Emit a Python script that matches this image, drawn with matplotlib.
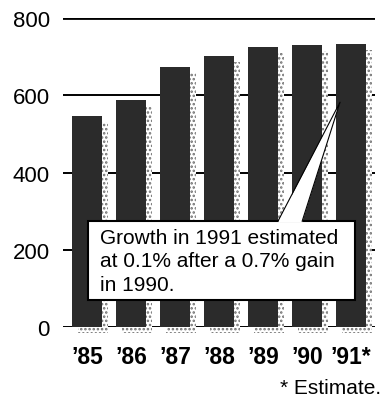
import matplotlib.pyplot as plt
from matplotlib.patches import Rectangle, Polygon

plt.rcParams['font.family'] = ['Liberation Sans', 'DejaVu Sans']
plt.rcParams['hatch.linewidth'] = 1.2

# yearly values (1991 is an estimate)
years = ["\u201985", "\u201986", "\u201987", "\u201988", "\u201989", "\u201990", "\u201991*"]
values = [547, 588, 673, 702, 725, 731, 732]
yticks = [0, 200, 400, 600, 800]
note = "Growth in 1991 estimated\nat 0.1% after a 0.7% gain\nin 1990."

barColor = "#2b2b2b"
barWidth = 0.68

fig = plt.figure(figsize=(3.83, 4.02), dpi=100)
ax = fig.add_axes([63 / 383, 74 / 402, 312 / 383, 309 / 402])

x = list(range(len(values)))

# horizontal rules behind the bars
for v in yticks:
    ax.axhline(v, color="black", lw=2.0 if v == 800 else 1.4, zorder=1)

# stippled drop shadow, shifted right and down
ax.bar([i + 0.14 for i in x], values, bottom=-16, width=barWidth,
       color="white", edgecolor="#707070", lw=0, hatch="....", zorder=2, clip_on=False)
ax.bar(x, values, width=barWidth, color=barColor, zorder=3)

# callout box with a wedge pointing at the 1991 bar
boxTop = 274
ax.add_patch(Rectangle((0.02, 70), 6.07, boxTop - 70, facecolor="white", edgecolor="black",
                       lw=1.5, zorder=4))
tip = (x[-1] - 0.25, values[-1] - 150)
base = [(4.34, boxTop), (4.89, boxTop)]
ax.add_patch(Polygon([(4.34, boxTop - 3), (4.89, boxTop - 3), tip], closed=True,
                     facecolor="white", edgecolor="none", zorder=5))
ax.plot([base[0][0], tip[0], base[1][0]], [base[0][1], tip[1], base[1][1]],
        color="black", lw=0.8, zorder=6)
ax.text(0.3, 171, note, fontsize=15, va="center", ha="left", linespacing=1.3, zorder=7)

ax.set_xlim(-0.545, 6.545)
ax.set_ylim(0, 800)
ax.set_yticks(yticks)
ax.set_yticklabels([str(v) for v in yticks], fontsize=16)
ax.set_xticks(x)
ax.set_xticklabels(years, fontsize=16.5, fontweight="bold")
ax.tick_params(axis="y", length=0, pad=9.5)
ax.tick_params(axis="x", length=0, pad=13)
for s in ax.spines.values():
    s.set_visible(False)

fig.text(381 / 383, 1 - 389 / 402, "* Estimate.", fontsize=15, ha="right", va="center")

fig.savefig("out.png", dpi=100)
